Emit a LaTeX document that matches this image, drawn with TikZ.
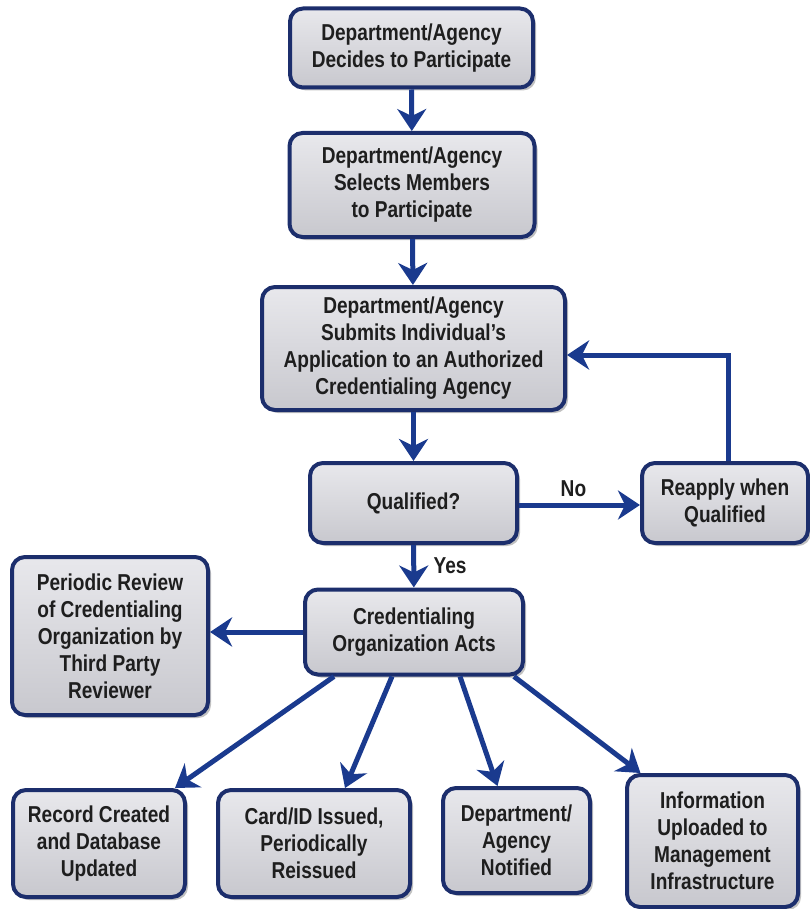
\documentclass[tikz,border=0pt]{standalone}
\usepackage{fontspec}
\setmainfont[FakeStretch=0.83]{Liberation Sans}
\usetikzlibrary{arrows.meta,shadows,calc}
\definecolor{boxedge}{RGB}{28,46,108}
\definecolor{arrowblue}{RGB}{26,58,142}
\definecolor{boxtop}{RGB}{232,232,236}
\definecolor{boxbot}{RGB}{200,200,206}
\definecolor{txt}{RGB}{30,30,30}
\begin{document}
\begin{tikzpicture}[x=1pt,y=-1pt,
  stepbox/.style={draw=boxedge, line width=4pt, rounded corners=13pt,
    top color=boxtop, bottom color=boxbot, align=center, inner sep=2pt,
    font=\fontsize{23pt}{27pt}\selectfont\bfseries, text=txt,
    drop shadow={shadow xshift=3pt, shadow yshift=-3pt, opacity=0.35, fill=black!70}},
  arr/.style={draw=arrowblue, line width=5pt,
    -{Stealth[length=22pt,width=29pt,inset=7pt]}},
  lbl/.style={font=\fontsize{23pt}{27pt}\selectfont\bfseries, text=txt}]
\useasboundingbox (0,0) rectangle (809,909);

\node[stepbox, minimum width=243pt, minimum height=79pt] (dec) at (411.5,48)
  {Department/Agency\\Decides to Participate};
\node[stepbox, minimum width=245pt, minimum height=104pt] (sel) at (412,185)
  {Department/Agency\\Selects Members\\to Participate};
\node[stepbox, minimum width=303pt, minimum height=123pt] (sub) at (413.5,348.5)
  {Department/Agency\\Submits Individual’s\\Application to an Authorized\\Credentialing Agency};
\node[stepbox, minimum width=207pt, minimum height=80pt] (qual) at (413.5,503)
  {Qualified?};
\node[stepbox, minimum width=166pt, minimum height=80pt] (reap) at (725,503)
  {Reapply when\\Qualified};
\node[stepbox, minimum width=218pt, minimum height=85pt] (cred) at (414,632)
  {Credentialing\\Organization Acts};
\node[stepbox, minimum width=196pt, minimum height=158pt] (rev) at (110,636)
  {Periodic Review\\of Credentialing\\Organization by\\Third Party\\Reviewer};
\node[stepbox, minimum width=172pt, minimum height=107pt] (rec) at (99,843.5)
  {Record Created\\and Database\\Updated};
\node[stepbox, minimum width=192pt, minimum height=107pt] (card) at (314,843.5)
  {Card/ID Issued,\\Periodically\\Reissued};
\node[stepbox, minimum width=147pt, minimum height=105pt] (noti) at (516.5,840.5)
  {Department/\\Agency\\Notified};
\node[stepbox, minimum width=171pt, minimum height=132pt] (info) at (712.5,841)
  {Information\\Uploaded to\\Management\\Infrastructure};

\draw[arr] (dec) -- (sel);
\draw[arr] (sel) -- (sub);
\draw[arr] (sub) -- (qual);
\draw[arr] ([yshift=-2pt]qual.east) -- ([yshift=-2pt]reap.west)
  node[lbl, pos=0.45, above=2pt] (no) {No};
\draw[arr] ([xshift=3pt]reap.north) |- ([yshift=-6.5pt]sub.east);
\draw[arr] (qual) -- (cred) node[lbl, pos=0.48, right=14pt] (yes) {Yes};
\draw[arr] (cred.west) -- (rev.east |- cred.west);
\draw[arr] ([xshift=-80pt]cred.south) -- ([xshift=76pt]rec.north);
\draw[arr] ([xshift=-22pt]cred.south) -- ([xshift=31pt]card.north);
\draw[arr] ([xshift=46pt]cred.south) -- ([xshift=-19pt]noti.north);
\draw[arr] ([xshift=100pt]cred.south) -- ([xshift=-72pt]info.north);
\end{tikzpicture}
\end{document}
